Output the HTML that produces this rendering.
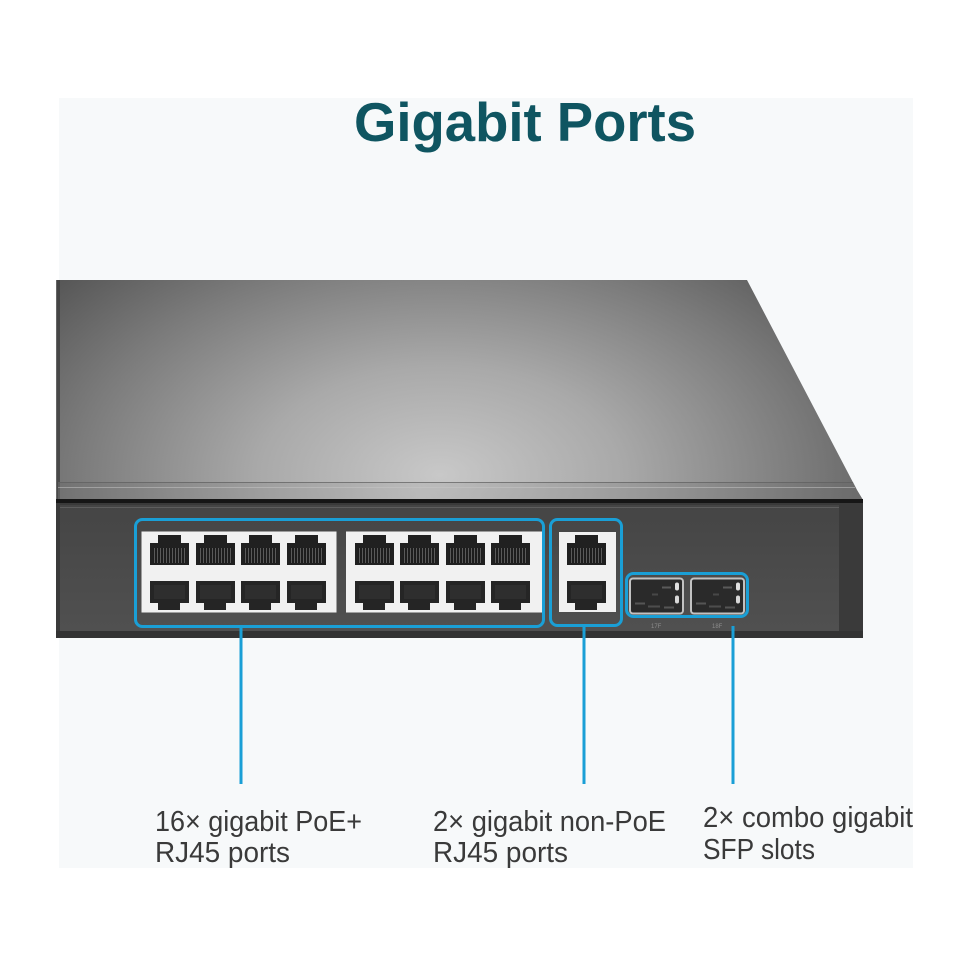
<!DOCTYPE html>
<html>
<head>
<meta charset="utf-8">
<style>
html,body{margin:0;padding:0;background:#ffffff;width:970px;height:971px;overflow:hidden}
svg{display:block}
</style>
</head>
<body>
<svg width="970" height="971" viewBox="0 0 970 971" xmlns="http://www.w3.org/2000/svg">
<defs>
  <radialGradient id="topg" gradientUnits="userSpaceOnUse" cx="440" cy="475" r="520" gradientTransform="translate(440 475) scale(1 0.6) translate(-440 -475)">
    <stop offset="0" stop-color="#c8c8c8"/>
    <stop offset="0.35" stop-color="#a9a9a9"/>
    <stop offset="0.7" stop-color="#7b7b7b"/>
    <stop offset="1" stop-color="#515151"/>
  </radialGradient>
  <linearGradient id="lip" x1="0" y1="0" x2="1" y2="0">
    <stop offset="0" stop-color="#6e6e6e"/>
    <stop offset="0.45" stop-color="#b4b4b4"/>
    <stop offset="1" stop-color="#6a6a6a"/>
  </linearGradient>
  <linearGradient id="fp" x1="0" y1="0" x2="0" y2="1">
    <stop offset="0" stop-color="#454545"/>
    <stop offset="1" stop-color="#505050"/>
  </linearGradient>
  <pattern id="contacts" width="3" height="20" patternUnits="userSpaceOnUse">
    <rect width="3" height="20" fill="#1d1d1d"/>
    <rect x="1" width="1" height="20" fill="#5a5a5a"/>
  </pattern>
  <g id="pt">
    <path d="M0,8 H8 V0 H31 V8 H39 V30 H0 Z" fill="#202020"/>
    <rect x="3" y="13" width="33" height="15" fill="url(#contacts)"/>
  </g>
  <g id="pb">
    <path d="M0,0 H39 V22 H30 V29 H8 V22 H0 Z" fill="#252525"/>
    <rect x="4" y="4" width="31" height="14" fill="#2e2e2e"/>
  </g>
  <g id="sfp">
    <rect x="0" y="0" width="53" height="35" rx="3" fill="#2a2a2a" stroke="#c2c2c2" stroke-width="2"/>
    <rect x="5" y="24" width="10" height="2" fill="#555"/>
    <rect x="18" y="27" width="12" height="2" fill="#4d4d4d"/>
    <rect x="32" y="8" width="9" height="2" fill="#5a5a5a"/>
    <rect x="22" y="15" width="6" height="2" fill="#484848"/>
    <rect x="34" y="28" width="10" height="2" fill="#555"/>
    <rect x="45" y="4" width="4" height="8" rx="2" fill="#e0e0e0"/>
    <rect x="45" y="17" width="4" height="8" rx="2" fill="#d8d8d8"/>
  </g>
</defs>

<!-- light panel -->
<rect x="59" y="98" width="854" height="770" fill="#f7f9fa"/>

<!-- title -->
<text x="354" y="141" font-family="Liberation Sans, sans-serif" font-weight="bold" font-size="55" fill="#0f5561" textLength="342" lengthAdjust="spacingAndGlyphs">Gigabit Ports</text>

<!-- switch top surface -->
<polygon points="57,280 747,280 857,490 863,500 57,500" fill="url(#topg)"/>
<rect x="56" y="280" width="4" height="220" fill="#3f3f3f" opacity="0.8"/>
<!-- lip band -->
<polygon points="58,482 853,482 857,490 863,500 58,500" fill="url(#lip)" opacity="0.55"/>
<rect x="58" y="482" width="795" height="1" fill="#5e5e5e" opacity="0.7"/>
<rect x="58" y="487" width="797" height="1" fill="#c8c8c8" opacity="0.5"/>

<!-- front panel -->
<rect x="56" y="499" width="807" height="139" fill="#3a3a3a"/>
<rect x="60" y="505" width="779" height="126" fill="url(#fp)"/>
<rect x="56" y="499" width="807" height="4" fill="#161616"/>
<rect x="60" y="507" width="779" height="1" fill="#6a6a6a" opacity="0.7"/>
<rect x="56" y="631" width="807" height="7" fill="#333333"/>

<!-- port blocks -->
<rect x="141.5" y="531.5" width="195" height="81" fill="#f1f1f1"/>
<rect x="346" y="531.5" width="196" height="81" fill="#f1f1f1"/>
<rect x="559" y="532" width="57" height="80" fill="#f1f1f1"/>

<!-- top ports -->
<use href="#pt" x="150" y="535"/>
<use href="#pt" x="196" y="535"/>
<use href="#pt" x="241" y="535"/>
<use href="#pt" x="287" y="535"/>
<use href="#pt" x="355" y="535"/>
<use href="#pt" x="400" y="535"/>
<use href="#pt" x="446" y="535"/>
<use href="#pt" x="491" y="535"/>
<use href="#pt" x="567" y="535"/>
<!-- bottom ports -->
<use href="#pb" x="150" y="581"/>
<use href="#pb" x="196" y="581"/>
<use href="#pb" x="241" y="581"/>
<use href="#pb" x="287" y="581"/>
<use href="#pb" x="355" y="581"/>
<use href="#pb" x="400" y="581"/>
<use href="#pb" x="446" y="581"/>
<use href="#pb" x="491" y="581"/>
<use href="#pb" x="567" y="581"/>

<!-- SFP cages -->
<use href="#sfp" x="630" y="578.5"/>
<use href="#sfp" x="691" y="578.5"/>
<text x="651" y="628" font-family="Liberation Sans, sans-serif" font-size="6" fill="#8c8c8c">17F</text>
<text x="712" y="628" font-family="Liberation Sans, sans-serif" font-size="6" fill="#8c8c8c">18F</text>

<!-- blue highlight boxes -->
<g fill="none" stroke="#1a9fd6" stroke-width="3">
  <rect x="135.5" y="519.5" width="408" height="107" rx="7"/>
  <rect x="550.5" y="519.5" width="71" height="106" rx="7"/>
  <rect x="626.5" y="573.5" width="121" height="43" rx="7"/>
</g>

<!-- connector lines -->
<g fill="#1a9fd6">
  <rect x="239.5" y="627" width="3" height="157"/>
  <rect x="582.5" y="626" width="3" height="158"/>
  <rect x="731.5" y="626" width="3" height="158"/>
</g>

<!-- labels -->
<g font-family="Liberation Sans, sans-serif" font-size="29" fill="#3a3a3a">
  <text x="155" y="831" textLength="207" lengthAdjust="spacingAndGlyphs">16× gigabit PoE+</text>
  <text x="155" y="862" textLength="135" lengthAdjust="spacingAndGlyphs">RJ45 ports</text>
  <text x="433" y="831" textLength="233" lengthAdjust="spacingAndGlyphs">2× gigabit non-PoE</text>
  <text x="433" y="862" textLength="135" lengthAdjust="spacingAndGlyphs">RJ45 ports</text>
  <text x="703" y="827" textLength="210" lengthAdjust="spacingAndGlyphs">2× combo gigabit</text>
  <text x="703" y="859" textLength="112" lengthAdjust="spacingAndGlyphs">SFP slots</text>
</g>
</svg>
</body>
</html>
